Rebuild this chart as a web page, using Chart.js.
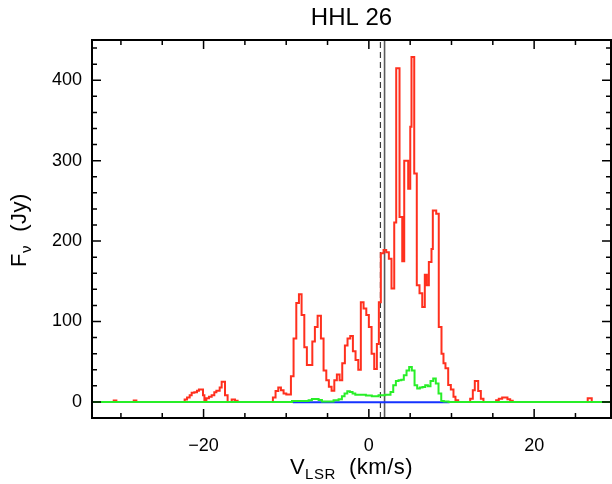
<!DOCTYPE html>
<html>
<head>
<meta charset="utf-8">
<script src="https://cdn.jsdelivr.net/npm/chart.js@4.4.0/dist/chart.umd.min.js"></script>
<style>
  html, body { margin: 0; padding: 0; background: #fff; }
  #wrap { width: 612px; height: 484px; }
</style>
</head>
<body>
<div id="wrap"><canvas id="spec"></canvas></div>
<script>
// spectrum channels: left edge velocity (km/s) and flux (Jy)
const redVel = [-33.5, -30.87, -30.55, -28.45, -28.13, -22.29, -22.0, -21.68, -21.44, -21.12, -20.80, -20.56,
    -20.07, -19.90, -19.66, -19.35, -19.02, -18.70, -18.45, -18.05, -17.81, -17.41, -17.09, -16.60, -16.20, -15.88,
    -11.61, -11.29, -10.96, -10.64, -10.32, -9.99, -9.43, -9.11, -8.78, -8.46, -8.14, -7.81, -7.50, -6.84, -6.53,
    -6.20, -5.80, -5.48, -5.15, -4.84, -4.51, -4.18, -3.87, -3.54, -3.22, -2.90, -2.58, -2.25, -1.93, -1.61, -1.28,
    -0.97, -0.64, -0.31, 0.00, 0.33, 0.65, 0.97, 1.21, 1.45, 1.78, 2.10, 2.42, 2.74, 3.07, 3.31, 3.71, 4.04, 4.28,
    4.76, 5.01, 5.16, 5.49, 5.80, 6.13, 6.46, 6.77, 7.01, 7.26, 7.58, 7.74, 8.15, 8.46, 8.79, 9.03, 9.27, 9.60,
    9.92, 10.24, 10.48, 10.81, 12.26, 12.58, 12.82, 13.23, 13.55, 13.87, 15.40, 15.72, 16.13, 16.77, 17.10, 17.41,
    26.48, 26.97, 29.3];
const redFlux = [0, 1.8, 0, 1.8, 0, 3, 5.5, 8.4, 11.3, 12.1, 13.8, 15.5,
    8.4, 2.1, 4.6, 6.3, 8.4, 12.1, 13.8, 18, 25, 8.4, 0, 3, 1.5, 0,
    5.5, 13.7, 17.9, 14.5, 10.4, 9.2, 32, 79, 123, 134, 108, 68, 46, 75, 93,
    107, 79, 39, 27, 19, 14, 27, 34, 27, 48, 70, 79, 82, 63, 52, 40,
    124, 116, 108, 93, 60, 41, 72, 124, 185, 189, 186, 178, 141, 223, 415, 230, 175, 300,
    265, 342, 429, 284, 145, 135, 118, 158, 145, 174, 190, 238, 234, 93, 60, 48, 42, 21,
    15.5, 6.4, 2, 0, 4, 14.5, 26, 13.7, 4, 0, 2, 4, 5.4, 3.3, 1.5, 0,
    4.5, 0, 0];

const greenVel = [-33.5, -9.30, -7.29, -6.89, -6.08, -5.68, -4.27, -3.66, -3.26, -2.94, -2.61, -2.30, -1.97,
    -1.64, -0.36, 0.36, 1.17, 1.98, 2.62, 2.95, 3.27, 3.59, 3.92, 4.23, 4.56, 4.88, 5.20, 5.53, 5.85, 6.17,
    6.49, 6.82, 7.14, 7.46, 7.79, 8.10, 8.43, 8.76, 9.07, 9.64, 29.3];
const greenFlux = [0, 1.0, 2, 3.7, 2.5, 0.6, 2, 3.3, 7, 10.4, 13.3, 12.4, 10.4,
    9, 8, 7, 8.3, 9, 12.4, 20.7, 26, 27, 27.7, 33, 39, 43.5, 39, 20.7, 16.6, 18,
    18.6, 20.7, 19.5, 26, 29, 23, 10.4, 1.2, 0.5, 0, 0];

const blueVel = [-9.2, 9.76];
const blueFlux = [-0.4, -0.4];

// reference velocities (vertical markers)
const dashedVel = 1.4;
const solidVel = 1.9;

const xRange = [-33.5, 29.3];
const yRange = [-20, 450];
const xLabelTicks = [-20, 0, 20];
const xMinorTicks = [-30, -25, -15, -10, -5, 5, 10, 15, 25];
const yLabelTicks = [0, 100, 200, 300, 400];
const yMinorTicks = [20, 40, 60, 80, 120, 140, 160, 180, 220, 240, 260, 280, 320, 340, 360, 380, 420, 440];

const FONT = "'Liberation Sans', Arial, Helvetica, sans-serif";

function pts(xs, ys) {
    return xs.map((v, i) => ({ x: v, y: ys[i] }));
}

// draws text pieces left to right, the second one lowered as a subscript
function subText(ctx, parts, x0, y0) {
    let w = 0;
    parts.forEach(p => { ctx.font = p.font; w += ctx.measureText(p.t).width; });
    let sx = x0 - w / 2;
    parts.forEach(p => {
        ctx.font = p.font;
        ctx.fillText(p.t, sx, y0 + (p.dy || 0));
        sx += ctx.measureText(p.t).width;
    });
}

const framePlugin = {
    id: 'frame',
    afterDraw(chart) {
        const { ctx, chartArea: a, scales: { x, y } } = chart;
        ctx.save();
        ctx.strokeStyle = '#000';
        ctx.lineWidth = 2;
        ctx.strokeRect(a.left, a.top, a.right - a.left, a.bottom - a.top);

        ctx.lineWidth = 1.5;
        ctx.beginPath();
        const xt = (v, len) => {
            const px = x.getPixelForValue(v);
            ctx.moveTo(px, a.bottom); ctx.lineTo(px, a.bottom - len);
            ctx.moveTo(px, a.top); ctx.lineTo(px, a.top + len);
        };
        const yt = (v, len) => {
            const py = y.getPixelForValue(v);
            ctx.moveTo(a.left, py); ctx.lineTo(a.left + len, py);
            ctx.moveTo(a.right, py); ctx.lineTo(a.right - len, py);
        };
        xLabelTicks.forEach(v => xt(v, 9));
        xMinorTicks.forEach(v => xt(v, 5));
        yLabelTicks.forEach(v => yt(v, 9));
        yMinorTicks.forEach(v => yt(v, 5));
        ctx.stroke();

        // title
        const cx = (a.left + a.right) / 2;
        ctx.fillStyle = '#000';
        ctx.textAlign = 'center';
        ctx.textBaseline = 'middle';
        ctx.font = '24px ' + FONT;
        ctx.fillText('HHL 26', cx, 18);

        // axis titles with subscripts
        ctx.textAlign = 'left';
        ctx.textBaseline = 'alphabetic';
        ctx.letterSpacing = '0.5px';
        const big = '22px ' + FONT, small = '15px ' + FONT;
        subText(ctx, [{ t: 'V', font: big }, { t: 'LSR', font: small, dy: 5 }, { t: '  (km/s)', font: big }], cx, 474);

        ctx.translate(26, 230);
        ctx.rotate(-Math.PI / 2);
        subText(ctx, [{ t: 'F', font: big }, { t: '\u03bd', font: small, dy: 5 }, { t: '  (Jy)', font: big }], 0, 0);
        ctx.restore();
    }
};

const specChartElm = document.getElementById('spec');

const specChartData = {
    datasets: [{
        label: 'green',
        data: pts(greenVel, greenFlux),
        stepped: true,
        borderColor: 'rgb(40, 238, 40)',
        borderWidth: 2,
        pointRadius: 0,
    }, {
        label: 'blue',
        data: pts(blueVel, blueFlux),
        borderColor: 'rgb(20, 50, 255)',
        borderWidth: 2,
        pointRadius: 0,
    }, {
        label: 'red',
        data: pts(redVel, redFlux),
        stepped: true,
        borderColor: 'rgb(255, 48, 30)',
        borderWidth: 2,
        pointRadius: 0,
    }, {
        label: 'vsolid',
        data: [{ x: solidVel, y: yRange[0] }, { x: solidVel, y: yRange[1] }],
        borderColor: 'rgb(90, 90, 90)',
        borderWidth: 1.6,
        pointRadius: 0,
    }, {
        label: 'vdashed',
        data: [{ x: dashedVel, y: yRange[0] }, { x: dashedVel, y: yRange[1] }],
        borderColor: 'rgb(60, 60, 60)',
        borderWidth: 1.2,
        borderDash: [6, 4],
        pointRadius: 0,
    }]
};

const specChartConfig = {
    type: 'line',
    data: specChartData,
    options: {
        responsive: true,
        maintainAspectRatio: false,
        animation: false,
        layout: { padding: { top: 40, right: 1, left: 0, bottom: 0 } },
        plugins: {
            legend: { display: false },
            tooltip: { enabled: false },
        },
        scales: {
            x: {
                type: 'linear',
                min: xRange[0],
                max: xRange[1],
                grid: { display: false, drawTicks: false },
                border: { display: false },
                afterBuildTicks: (s) => { s.ticks = xLabelTicks.map(v => ({ value: v })); },
                afterFit: (s) => { s.height = 66; },
                ticks: {
                    color: '#000',
                    padding: 17,
                    maxRotation: 0,
                    font: { family: FONT, size: 18 },
                    callback: (v) => String(v).replace('-', '\u2212'),
                },
            },
            y: {
                type: 'linear',
                min: yRange[0],
                max: yRange[1],
                grid: { display: false, drawTicks: false },
                border: { display: false },
                afterBuildTicks: (s) => { s.ticks = yLabelTicks.map(v => ({ value: v })); },
                afterFit: (s) => { s.width = 92; },
                ticks: {
                    color: '#000',
                    padding: 10,
                    font: { family: FONT, size: 18 },
                },
            },
        },
    },
    plugins: [framePlugin],
};

const specChart = new Chart(specChartElm, specChartConfig);
</script>
</body>
</html>
